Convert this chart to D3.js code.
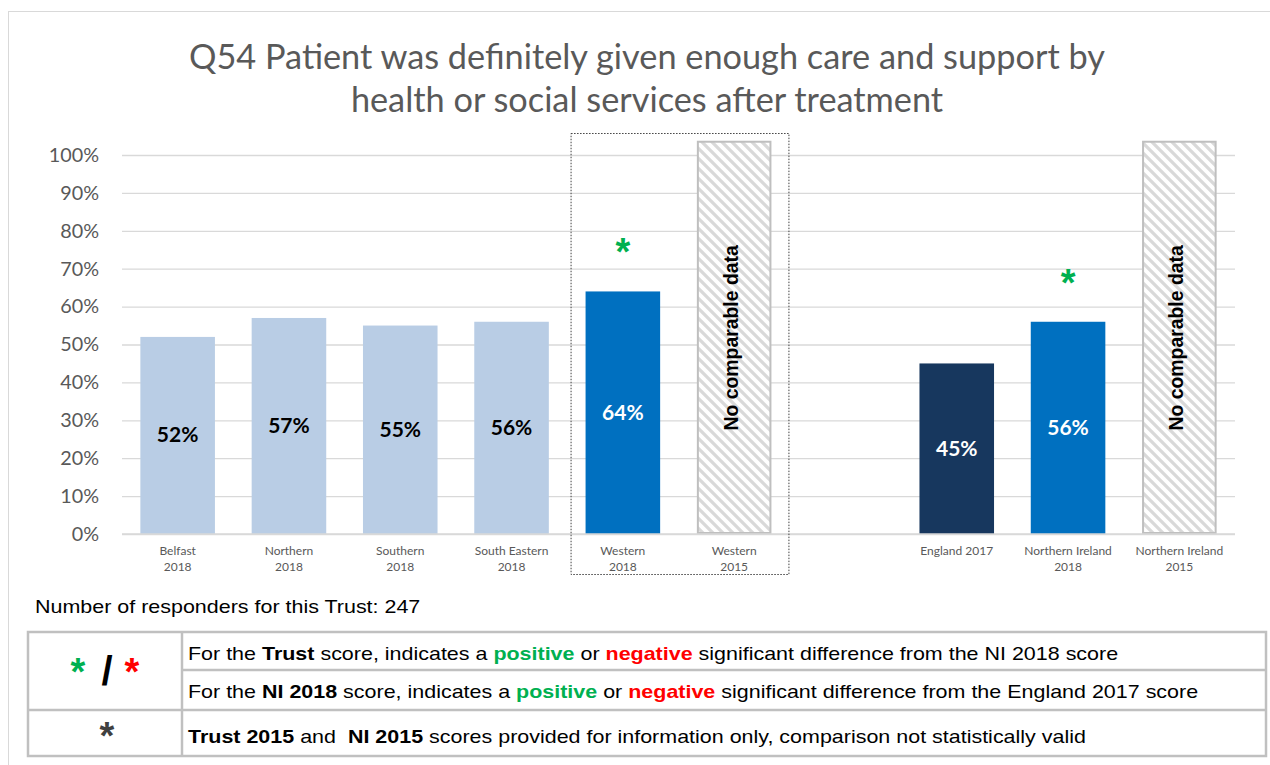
<!DOCTYPE html>
<html>
<head>
<meta charset="utf-8">
<script src="https://cdn.jsdelivr.net/npm/d3@7"></script>
<style>
  body { margin: 0; background: #fff; }
  svg { display: block; }
</style>
</head>
<body>
<svg id="chart"></svg>
<script>
// chart data
var categories = ["belfast18", "northern18", "southern18", "southEastern18", "western18", "western15", "gap", "england17", "ni18", "ni15"];
var categoryLabels = [["Belfast", "2018"], ["Northern", "2018"], ["Southern", "2018"], ["South Eastern", "2018"], ["Western", "2018"], ["Western", "2015"], [], ["England 2017"], ["Northern Ireland", "2018"], ["Northern Ireland", "2015"]];
var values = [52, 57, 55, 56, 64, null, null, 45, 56, null];
var barKinds = ["region", "region", "region", "region", "trust", "nodata", "gap", "england", "ni", "nodata"];
var sigMarks = [null, null, null, null, "positive", null, null, null, "positive", null];
var noDataValue = 103.5;
var yTicks = [0, 10, 20, 30, 40, 50, 60, 70, 80, 90, 100];
var titleLines = ["Q54 Patient was definitely given enough care and support by", "health or social services after treatment"];
var responders = 247;
var legendRows = [
  [{t: "For the "}, {t: "Trust", b: 1}, {t: " score, indicates a "}, {t: "positive", b: 1, c: "#00b050"}, {t: " or "}, {t: "negative", b: 1, c: "#ff0000"}, {t: " significant difference from the NI 2018 score"}],
  [{t: "For the "}, {t: "NI 2018", b: 1}, {t: " score, indicates a "}, {t: "positive", b: 1, c: "#00b050"}, {t: " or "}, {t: "negative", b: 1, c: "#ff0000"}, {t: " significant difference from the England 2017 score"}],
  [{t: "Trust 2015", b: 1}, {t: " and  "}, {t: "NI 2015", b: 1}, {t: " scores provided for information only, comparison not statistically valid"}]
];

var W = 1270, H = 765;
var colors = {region: "#b9cde5", trust: "#0070c0", england: "#17375e", ni: "#0070c0"};
var labelColors = {region: "#000", trust: "#fff", england: "#fff", ni: "#fff"};
var grey = "#595959";
var arial = "Liberation Sans, Arial, sans-serif";
var stretch = 1.13; // the table text in the original is a bit wider than Arial

var svg = d3.select("#chart").attr("width", W).attr("height", H);

// outer chart border
svg.append("rect")
  .attr("x", 8.5).attr("y", 11.5).attr("width", W + 10).attr("height", H + 10)
  .attr("fill", "none").attr("stroke", "#d9d9d9").attr("stroke-width", 1);

// hatch pattern
var defs = svg.append("defs");
var pat = defs.append("pattern")
  .attr("id", "hatch")
  .attr("patternUnits", "userSpaceOnUse")
  .attr("width", 10).attr("height", 10);
pat.append("rect").attr("width", 10).attr("height", 10).attr("fill", "#fff");
pat.append("path")
  .attr("d", "M-3,-3L13,13M-3,7L3,13M7,-3L13,3")
  .attr("stroke", "#d9d9d9").attr("stroke-width", 3.2);

var x = d3.scaleBand()
  .domain(categories)
  .range([122, 1235])
  .paddingInner(0.33)
  .paddingOuter(0.165);

var y = d3.scaleLinear()
  .domain([0, 100])
  .range([534, 155]);

// title
svg.append("g").selectAll("text")
  .data(titleLines)
  .enter().append("text")
  .attr("x", 647)
  .attr("y", function(d, i) { return 69 + i * 43; })
  .attr("text-anchor", "middle")
  .attr("font-family", "Lato, sans-serif")
  .attr("font-size", 34.3)
  .attr("fill", grey)
  .text(function(d) { return d; });

// gridlines + y labels
var yAxis = d3.axisLeft(y)
  .tickValues(yTicks)
  .tickSize(-(1235 - 122))
  .tickPadding(23)
  .tickFormat(function(d) { return d + "%"; });

var gy = svg.append("g")
  .attr("transform", "translate(122,0)")
  .call(yAxis);
gy.select(".domain").remove();
gy.selectAll(".tick line").attr("stroke", "#d9d9d9").attr("stroke-width", 1.3);
gy.selectAll(".tick text")
  .attr("font-family", "Lato, sans-serif")
  .attr("font-size", 19.8)
  .attr("fill", grey);

var idx = d3.range(categories.length);

// bars
svg.append("g").selectAll("rect")
  .data(idx.filter(function(i) { return values[i] != null; }))
  .enter().append("rect")
  .attr("x", function(i) { return x(categories[i]); })
  .attr("width", x.bandwidth())
  .attr("y", function(i) { return y(values[i]); })
  .attr("height", function(i) { return y(0) - y(values[i]); })
  .attr("fill", function(i) { return colors[barKinds[i]]; });

// no comparable data bars
var nd = svg.append("g").selectAll("g")
  .data(idx.filter(function(i) { return barKinds[i] == "nodata"; }))
  .enter().append("g");
nd.append("rect")
  .attr("x", function(i) { return x(categories[i]) + 1; })
  .attr("width", x.bandwidth() - 2)
  .attr("y", y(noDataValue))
  .attr("height", y(0) - y(noDataValue) - 1)
  .attr("fill", "url(#hatch)")
  .attr("stroke", "#bfbfbf").attr("stroke-width", 2);
nd.append("text")
  .attr("transform", function(i) {
    return "translate(" + (x(categories[i]) + x.bandwidth() / 2 + 4) + "," + (y(noDataValue / 2)) + ") rotate(-90)";
  })
  .attr("text-anchor", "middle")
  .attr("font-family", arial)
  .attr("font-weight", "bold")
  .attr("font-size", 19.4)
  .attr("fill", "#000")
  .text("No comparable data");

// axis line
svg.append("line")
  .attr("x1", 122).attr("x2", 1235)
  .attr("y1", y(0)).attr("y2", y(0))
  .attr("stroke", "#d9d9d9").attr("stroke-width", 1.5);

// value labels
svg.append("g").selectAll("text")
  .data(idx.filter(function(i) { return values[i] != null; }))
  .enter().append("text")
  .attr("x", function(i) { return x(categories[i]) + x.bandwidth() / 2; })
  .attr("y", function(i) { return y(values[i] / 2) + 7; })
  .attr("text-anchor", "middle")
  .attr("font-family", "Lato, sans-serif")
  .attr("font-weight", "bold")
  .attr("font-size", 21)
  .attr("fill", function(i) { return labelColors[barKinds[i]]; })
  .text(function(i) { return values[i] + "%"; });

// significance asterisks
svg.append("g").selectAll("text")
  .data(idx.filter(function(i) { return sigMarks[i] != null; }))
  .enter().append("text")
  .attr("x", function(i) { return x(categories[i]) + x.bandwidth() / 2; })
  .attr("y", function(i) { return y(values[i]) - 26; })
  .attr("text-anchor", "middle")
  .attr("font-family", arial)
  .attr("font-weight", "bold")
  .attr("font-size", 38)
  .attr("fill", function(i) { return sigMarks[i] == "positive" ? "#00b050" : "#ff0000"; })
  .text("*");

// x labels
var xl = svg.append("g").selectAll("text")
  .data(idx)
  .enter().append("text")
  .attr("text-anchor", "middle")
  .attr("font-family", "Lato, sans-serif")
  .attr("font-size", 12)
  .attr("fill", grey);
xl.selectAll("tspan")
  .data(function(i) { return categoryLabels[i].map(function(s) { return {s: s, i: i}; }); })
  .enter().append("tspan")
  .attr("x", function(d) { return x(categories[d.i]) + x.bandwidth() / 2; })
  .attr("y", function(d, j) { return 555 + j * 16; })
  .text(function(d) { return d.s; });

// dotted box around the trust bars
var bx0 = x("western18") - 15, bx1 = x("western15") + x.bandwidth() + 17;
svg.append("rect")
  .attr("x", bx0 + 0.5).attr("y", 133.5)
  .attr("width", bx1 - bx0).attr("height", 441)
  .attr("fill", "none")
  .attr("stroke", "#404040").attr("stroke-width", 1)
  .attr("stroke-dasharray", "1.5,1.5");

// responders
svg.append("text")
  .attr("transform", "translate(35,613) scale(" + stretch + ",1)")
  .attr("font-family", arial)
  .attr("font-size", 19)
  .attr("fill", "#000")
  .text("Number of responders for this Trust: " + responders);

// legend table
var tb = {x0: 28, x1: 1266, xc: 182, rows: [632, 670, 710, 756]};
var tg = svg.append("g").attr("stroke", "#c0c0c0").attr("stroke-width", 2.5).attr("fill", "none");
tg.append("rect").attr("x", tb.x0).attr("y", tb.rows[0]).attr("width", tb.x1 - tb.x0).attr("height", tb.rows[3] - tb.rows[0]);
tg.append("line").attr("x1", tb.xc).attr("x2", tb.xc).attr("y1", tb.rows[0]).attr("y2", tb.rows[3]);
tg.append("line").attr("x1", tb.xc).attr("x2", tb.x1).attr("y1", tb.rows[1]).attr("y2", tb.rows[1]);
tg.append("line").attr("x1", tb.x0).attr("x2", tb.x1).attr("y1", tb.rows[2]).attr("y2", tb.rows[2]);

var lt = svg.append("g").selectAll("text")
  .data(legendRows)
  .enter().append("text")
  .attr("transform", function(d, i) { return "translate(188," + [660, 698, 743][i] + ") scale(" + stretch + ",1)"; })
  .attr("font-family", arial)
  .attr("font-size", 19)
  .attr("fill", "#000")
  .attr("xml:space", "preserve")
  .style("white-space", "pre");
lt.selectAll("tspan")
  .data(function(d) { return d; })
  .enter().append("tspan")
  .attr("font-weight", function(s) { return s.b ? "bold" : null; })
  .attr("fill", function(s) { return s.c || null; })
  .text(function(s) { return s.t; });

// legend symbols
var symbols = [
  {t: "*", x: 78, y: 685, size: 38, c: "#00b050"},
  {t: "/", x: 107, y: 685, size: 40, c: "#000"},
  {t: "*", x: 132, y: 685, size: 38, c: "#ff0000"},
  {t: "*", x: 107, y: 749, size: 38, c: "#404040"}
];
svg.append("g").selectAll("text")
  .data(symbols)
  .enter().append("text")
  .attr("x", function(d) { return d.x; })
  .attr("y", function(d) { return d.y; })
  .attr("text-anchor", "middle")
  .attr("font-family", arial)
  .attr("font-weight", "bold")
  .attr("font-size", function(d) { return d.size; })
  .attr("fill", function(d) { return d.c; })
  .text(function(d) { return d.t; });
</script>
</body>
</html>
